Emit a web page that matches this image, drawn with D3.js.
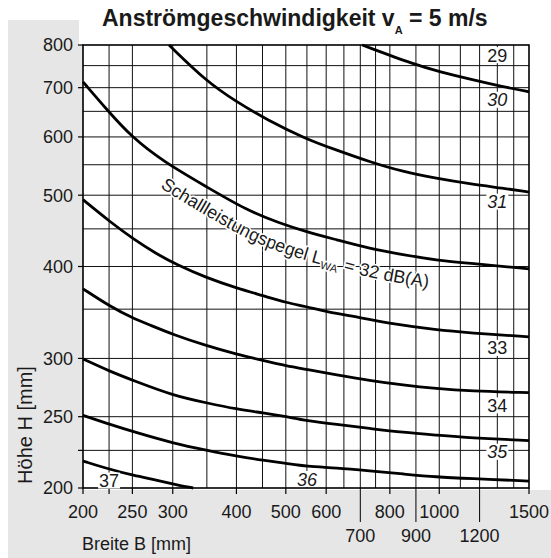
<!DOCTYPE html>
<html>
<head>
<meta charset="utf-8">
<script src="https://cdn.jsdelivr.net/npm/d3@7"></script>
<style>
  body { margin: 0; background: #fff; }
  text { font-family: Arial, "Liberation Sans", sans-serif; fill: #1a1a1a; }
</style>
</head>
<body>
<div id="chart"></div>
<script>
// chart data: each curve is a list of [Breite B, Höhe H] in mm
var curve29_30 = [[706,800],[901,751],[1002,736],[1147,719],[1334,702],[1500,691]];
var curve30_31 = [[295,800],[350,713],[400,670],[459,633],[548,596],[628,576],[730,555],[849,538],[987,527],[1147,518],[1334,511],[1500,505]];
var curve31_32 = [[200,713],[223,653],[249,600],[288,555],[350,513],[419,477],[487,458],[548,446],[628,435],[730,423],[849,415],[987,408],[1147,404],[1500,397]];
var curve32_33 = [[200,493],[226,460],[251,436],[279,416],[305,402.5],[350,386],[400,374],[452,365],[502,357],[548,353],[600,347],[698,341],[811,334],[987,328],[1147,325],[1500,321]];
var curve33_34 = [[200,373],[226,353],[251,340],[271,333],[301,323],[350,312],[400,304],[452,298],[502,293],[548,290],[628,285],[730,280],[849,276],[987,273],[1147,271],[1500,269.5]];
var curve34_35 = [[200,299.5],[226,288],[251,280],[301,267],[350,261],[400,256],[452,253],[502,250],[548,247],[628,244],[730,241],[849,238],[987,236],[1147,234],[1500,232]];
var curve35_36 = [[200,251],[226,244],[251,238.5],[301,230],[350,225],[400,221],[452,218],[502,216],[548,214],[628,213],[730,211],[849,209],[987,207],[1147,206],[1500,204.4]];
var curve36_37 = [[200,217.6],[226,212],[251,208],[279,205],[305,202],[329,200]];

var curves = [curve29_30, curve30_31, curve31_32, curve32_33, curve33_34, curve34_35, curve35_36, curve36_37];

// level labels: text, B, H, italic
var levelLabels = [
  ["29", 1300, 775, false],
  ["30", 1300, 674, true],
  ["31", 1300, 490, true],
  ["33", 1300, 310, false],
  ["34", 1300, 259, false],
  ["35", 1300, 224, true],
  ["36", 550, 205.7, true],
  ["37", 225, 204.7, false]
];

// grid and ticks
var gridB = [225,250,300,350,400,450,500,550,600,650,700,750,800,900,1000,1100,1200,1300,1400];
var gridH = [225,250,300,350,400,450,500,550,600,650,700,750];
var ticksH = [200,225,250,300,400,500,600,700,800];
var labelsH = [200,250,300,400,500,600,700,800];
var ticksB = [200,225,250,300,400,500,600,800,1000,1500];
var labelsB = [200,250,300,400,500,600,800,1000,1500];
var ticksBLow = [700,900,1200];

var width = 551, height = 558;
var svg = d3.select("#chart").append("svg")
  .attr("width", width).attr("height", height);

var x = d3.scaleLog().domain([200,1500]).range([83,529]);
var y = d3.scaleLog().domain([200,800]).range([488,45]);

// background: grey frame on the left and the bottom
svg.append("rect").attr("x",8).attr("y",20).attr("width",543).attr("height",538).attr("fill","#e6e6e6");
svg.append("rect").attr("x",79).attr("y",0).attr("width",472).attr("height",45).attr("fill","#fff");
svg.append("rect").attr("x",83).attr("y",0).attr("width",468).attr("height",490).attr("fill","#fff");

// gridlines
svg.append("g").selectAll("line").data(gridB).enter().append("line")
  .attr("x1", d => x(d)).attr("x2", d => x(d))
  .attr("y1", y(800)).attr("y2", y(200))
  .attr("stroke","#111").attr("stroke-width",1);
svg.append("g").selectAll("line").data(gridH).enter().append("line")
  .attr("y1", d => y(d)).attr("y2", d => y(d))
  .attr("x1", x(200)).attr("x2", x(1500))
  .attr("stroke","#111").attr("stroke-width",1);

// frame
svg.append("rect").attr("x",x(200)).attr("y",y(800))
  .attr("width",x(1500)-x(200)).attr("height",y(200)-y(800))
  .attr("fill","none").attr("stroke","#000").attr("stroke-width",1.6);

// y ticks + labels
svg.append("g").selectAll("line").data(ticksH).enter().append("line")
  .attr("x1",78).attr("x2",x(200)).attr("y1", d => y(d)).attr("y2", d => y(d))
  .attr("stroke","#000").attr("stroke-width",1.2);
svg.append("g").selectAll("text").data(labelsH).enter().append("text")
  .attr("x",73).attr("y", d => y(d)).attr("dy","0.36em")
  .attr("text-anchor","end").style("font-size","18px").text(d => d);

// x ticks + labels
svg.append("g").selectAll("line").data(ticksB).enter().append("line")
  .attr("x1", d => x(d)).attr("x2", d => x(d)).attr("y1",y(200)).attr("y2",y(200)+6)
  .attr("stroke","#000").attr("stroke-width",1.2);
svg.append("g").selectAll("line").data(ticksBLow).enter().append("line")
  .attr("x1", d => x(d)).attr("x2", d => x(d)).attr("y1",y(200)).attr("y2",y(200)+34)
  .attr("stroke","#000").attr("stroke-width",1);
svg.append("g").selectAll("text").data(labelsB).enter().append("text")
  .attr("x", d => x(d)).attr("y",518).attr("text-anchor","middle")
  .style("font-size","18px").text(d => d);
svg.append("g").selectAll("text").data(ticksBLow).enter().append("text")
  .attr("x", d => x(d)).attr("y",542).attr("text-anchor","middle")
  .style("font-size","18px").text(d => d);

// curves
var line = d3.line().x(d => x(d[0])).y(d => y(d[1])).curve(d3.curveBasis);
svg.append("g").selectAll("path").data(curves).enter().append("path")
  .attr("d", line).attr("fill","none").attr("stroke","#000")
  .attr("stroke-width",2.8).attr("stroke-linecap","butt");

// label along the 32 dB curve
var offsetLine = d3.line().x(d => x(d[0])).y(d => y(d[1]) + 29).curve(d3.curveBasis);
var guide = svg.append("path").attr("id","guide32").attr("d", offsetLine(curve31_32))
  .attr("fill","none").attr("stroke","none");
var gnode = guide.node();
var total = gnode.getTotalLength();
var lo = 0, hi = total;
for (var i = 0; i < 30; i++) {
  var mid = (lo + hi) / 2;
  if (gnode.getPointAtLength(mid).x < 160) lo = mid; else hi = mid;
}
var tp = svg.append("text").style("font-size","18px")
  .attr("stroke","#fff").attr("stroke-width",3).attr("paint-order","stroke")
  .append("textPath").attr("href","#guide32").attr("startOffset", lo);
tp.append("tspan").text("Schallleistungspegel L");
tp.append("tspan").attr("dy",4).style("font-size","11px").text("WA");
tp.append("tspan").attr("dy",-4).attr("dx",1).text(" = 32 dB(A)");

// level numbers with white box
var lbl = svg.append("g").selectAll("g").data(levelLabels).enter().append("g")
  .attr("transform", d => "translate(" + x(d[1]) + "," + y(d[2]) + ")");
lbl.append("rect").attr("x",-11).attr("y",-8).attr("width",22).attr("height",16).attr("fill","#fff");
lbl.append("text").attr("text-anchor","middle").attr("dy","0.36em")
  .style("font-size","18px").style("font-style", d => d[3] ? "italic" : "normal")
  .text(d => d[0]);

// titles
var title = svg.append("text").attr("x",102).attr("y",26)
  .style("font-size","23px").style("font-weight","bold");
title.append("tspan").text("Anströmgeschwindigkeit v");
title.append("tspan").attr("dy",8).style("font-size","11px").text("A");
title.append("tspan").attr("dy",-8).text(" = 5 m/s");

svg.append("text").attr("x",82).attr("y",550).style("font-size","18px").text("Breite B [mm]");
svg.append("text").attr("transform","translate(32,425) rotate(-90)")
  .attr("text-anchor","middle").style("font-size","20px").text("Höhe H [mm]");
</script>
</body>
</html>
